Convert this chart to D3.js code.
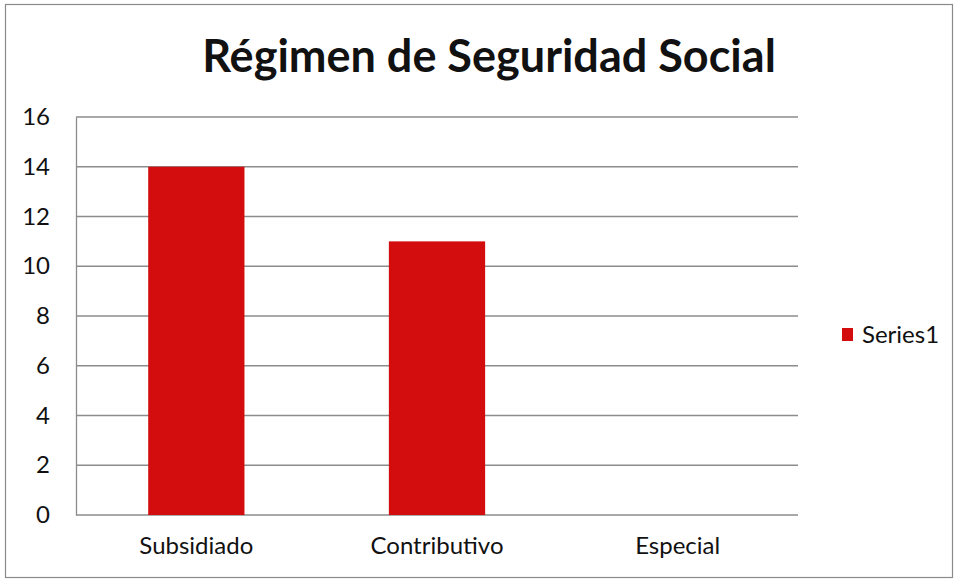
<!DOCTYPE html>
<html>
<head>
<meta charset="utf-8">
<script src="https://cdn.jsdelivr.net/npm/d3@7"></script>
<style>
  html, body { margin: 0; padding: 0; background: #fff; }
  svg { display: block; }
  text { font-family: Lato, "Open Sans", sans-serif; fill: #111; }
</style>
</head>
<body>
<div id="chart"></div>
<script>
// Chart data
const title = "Régimen de Seguridad Social";
const categories = ["Subsidiado", "Contributivo", "Especial"];
const seriesName = "Series1";
const seriesValues = [14, 11, 0];
const yTicks = [0, 2, 4, 6, 8, 10, 12, 14, 16];

const width = 958, height = 581;
const margin = { left: 76, right: 160, top: 117, bottom: 66 };
const barColor = "#d30d0d";

const svg = d3.select("#chart").append("svg")
  .attr("width", width).attr("height", height);

// Outer chart border
svg.append("rect")
  .attr("x", 5.5).attr("y", 4.5)
  .attr("width", 947).attr("height", 573)
  .attr("fill", "#fff").attr("stroke", "#8a8a8a").attr("stroke-width", 1.2);

const x = d3.scaleBand()
  .domain(categories)
  .range([margin.left, width - margin.right])
  .paddingInner(0.6).paddingOuter(0.3);

const y = d3.scaleLinear()
  .domain([0, 16])
  .range([height - margin.bottom, margin.top]);

// Title
svg.append("text")
  .attr("x", 489).attr("y", 72)
  .attr("text-anchor", "middle")
  .style("font-size", "45px").style("font-weight", "700")
  .text(title);

// Horizontal gridlines
svg.append("g")
  .selectAll("line")
  .data(yTicks)
  .join("line")
  .attr("x1", margin.left).attr("x2", width - margin.right)
  .attr("y1", d => y(d)).attr("y2", d => y(d))
  .attr("stroke", "#8c8c8c").attr("stroke-width", 1.3);

// Bars
svg.append("g")
  .selectAll("rect")
  .data(categories.map((c, i) => ({ c, v: seriesValues[i] })))
  .join("rect")
  .attr("x", d => x(d.c))
  .attr("y", d => y(d.v))
  .attr("width", x.bandwidth())
  .attr("height", d => y(0) - y(d.v))
  .attr("fill", barColor);

// Y axis
const yAxis = svg.append("g")
  .attr("transform", `translate(${margin.left},0)`)
  .call(d3.axisLeft(y).tickValues(yTicks).tickSize(0).tickPadding(26));
yAxis.select(".domain").attr("stroke", "#8c8c8c").attr("stroke-width", 1.3);
yAxis.selectAll("text").style("font-size", "24px").attr("fill", "#111");

// X axis
const xAxis = svg.append("g")
  .attr("transform", `translate(0,${y(0)})`)
  .call(d3.axisBottom(x).tickSize(0).tickPadding(22));
xAxis.select(".domain").remove();
xAxis.selectAll("text").style("font-size", "24px").attr("fill", "#111");

// Legend
const legend = svg.append("g").attr("transform", "translate(842,328)");
legend.append("rect").attr("width", 11).attr("height", 13).attr("fill", barColor);
legend.append("text").attr("x", 20).attr("y", 15)
  .style("font-size", "24px").text(seriesName);
</script>
</body>
</html>
